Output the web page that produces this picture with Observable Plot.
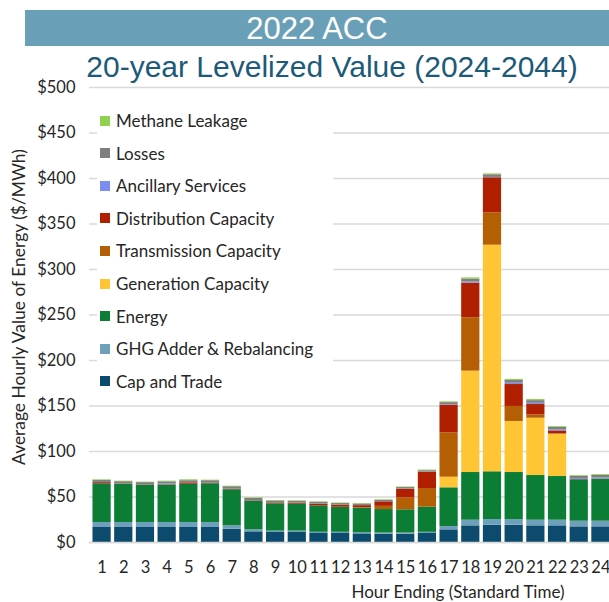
<!DOCTYPE html>
<html><head><meta charset="utf-8">
<script src="https://cdn.jsdelivr.net/npm/d3@7"></script>
<script src="https://cdn.jsdelivr.net/npm/@observablehq/plot@0.6"></script>
<style>
body{margin:0;background:#fff;}
#wrap{position:relative;width:609px;height:602px;overflow:hidden;font-family:Lato,sans-serif;}
#banner{position:absolute;left:25px;top:10px;width:584px;height:36px;background:#6aa0b7;color:#fff;font:31px "Liberation Sans",Arial,sans-serif;text-align:center;line-height:37px;}
#sub{position:absolute;left:55px;width:554px;top:49px;text-align:center;color:#1c5a79;font:30px "Liberation Sans",Arial,sans-serif;line-height:36px;white-space:nowrap;}
#chart{position:absolute;left:0;top:70px;}
#legend{position:absolute;left:97px;top:106px;width:236px;height:290px;background:#fff;}
.item{position:absolute;left:3px;height:20px;display:flex;align-items:center;font:17px Lato,sans-serif;color:#262626;white-space:nowrap;}
.sw{width:10px;height:10px;margin-right:6px;flex:none;}
#xlab{position:absolute;left:318px;width:280px;top:581px;text-align:center;font:17px Lato,sans-serif;color:#262626;}
#ylab{position:absolute;left:-182px;width:400px;top:297px;height:20px;line-height:20px;text-align:center;font:17.4px Lato,sans-serif;color:#262626;transform:rotate(-90deg);white-space:nowrap;}
</style></head><body>
<div id="wrap">
  <div id="banner">2022 ACC</div>
  <div id="sub">20-year Levelized Value (2024-2044)</div>
  <div id="chart"></div>
  <div id="legend"></div>
  <div id="xlab">Hour Ending (Standard Time)</div>
  <div id="ylab">Average Hourly Value of Energy ($/MWh)</div>
</div>
<script>
const hours = [1,2,3,4,5,6,7,8,9,10,11,12,13,14,15,16,17,18,19,20,21,22,23,24];
const seriesNames = ["Cap and Trade","GHG Adder & Rebalancing","Energy","Generation Capacity","Transmission Capacity","Distribution Capacity","Ancillary Services","Losses","Methane Leakage"];
const seriesColors = ["#0c4b6e","#6fa0bb","#0b7d35","#ffc535","#b45f04","#b01f00","#7b8ef0","#7f7f7f","#92d050"];
const capTrade     = [16.5,16.5,16.5,16.5,16.5,16.5,14.6,11.7,11,11,9.9,9.9,9.5,9.2,9.2,9.9,13.9,18.3,19,19,18.3,18.3,17.2,17.2];
const ghgAdder     = [5.5,5.5,5.5,5.5,5.5,5.5,3.7,2.2,1.5,1.5,1.3,1.3,1.2,1.2,1.2,1.3,3.7,6.2,6.2,6.2,6.2,6.2,6.2,6.2];
const energy       = [42.5,41.7,41,41,42,42.5,39.6,31.5,30,29.6,29.1,27.3,27,25.8,25.5,27.6,42.5,52.4,52.5,51.7,49.1,48,45.5,46.2];
const generation   = [0,0,0,0,0,0,0,0,0,0,0,0,0,0,0,0,11.7,111.4,249,56.1,63,46.5,0,0];
const transmission = [0,0,0,0,0,0,0,0,0,0,0,0.3,0.6,3.5,13.2,20.5,48.7,58.6,35.6,16.5,3.7,0.3,0,0];
const distribution = [1.3,0.5,0.4,0.5,1.5,0.4,0.4,0.5,1,1,1.8,2,2.2,5,9.5,17.9,30.4,38.1,38.5,24.1,11.3,3.3,0.3,0.3];
const ancillary    = [0.2,0.1,0.1,0.8,0.2,0.2,0.2,0.2,0.2,0.2,0.2,0.2,0.2,0.2,0.3,0.2,0.6,1.2,0.4,1.4,1.4,1.2,1.0,1.1];
const losses       = [2.2,2.5,2.3,2.4,2.2,2.8,2.8,2.4,1.9,1.9,1.8,1.8,1.6,1.4,1.5,1.5,2.2,3.3,2.9,3.0,2.9,2.8,2.6,2.8];
const methane      = [0.7,0.6,0.5,0.7,1.0,0.6,0.6,0.6,0.6,0.6,0.6,0.6,0.6,0.6,0.6,0.7,0.9,1.3,1.0,1.2,1.2,0.9,0.8,0.9];
const yTicks = [0,50,100,150,200,250,300,350,400,450,500];

const seriesValues = [capTrade, ghgAdder, energy, generation, transmission, distribution, ancillary, losses, methane];
const data = seriesNames.flatMap((name, i) => hours.map((h, j) => ({hour: h, series: name, value: seriesValues[i][j]})));

const chart = Plot.plot({
  width: 609,
  height: 532,
  marginTop: 17,
  marginBottom: 60,
  marginLeft: 89,
  marginRight: -4,
  style: {fontFamily: "Lato, sans-serif", fontSize: "16px", color: "#262626", background: "transparent", overflow: "visible"},
  x: {type: "band", domain: hours, padding: 0.16, round: false},
  y: {domain: [0, 500]},
  color: {domain: seriesNames, range: seriesColors},
  marks: [
    Plot.gridY(yTicks, {stroke: "#d9d9d9", strokeOpacity: 1, strokeWidth: 1.3}),
    Plot.barY(data, {x: "hour", y: "value", fill: "series"}),
    Plot.ruleY([0], {stroke: "#d9d9d9", strokeWidth: 1.3}),
    Plot.axisY(yTicks, {tickSize: 0, tickPadding: 14, tickFormat: d => "$" + d, label: null, fontSize: 16.5}),
    Plot.axisX({tickSize: 0, tickPadding: 19, label: null, fontSize: 16.5})
  ]
});
document.getElementById("chart").appendChild(chart);

const legend = document.getElementById("legend");
[...seriesNames].reverse().forEach((name, k) => {
  const i = seriesNames.indexOf(name);
  const item = document.createElement("div");
  item.className = "item";
  item.style.top = (4.5 + k * 32.6) + "px";
  const sw = document.createElement("span");
  sw.className = "sw";
  sw.style.background = seriesColors[i];
  item.appendChild(sw);
  item.appendChild(document.createTextNode(name));
  legend.appendChild(item);
});
</script>
</body></html>
